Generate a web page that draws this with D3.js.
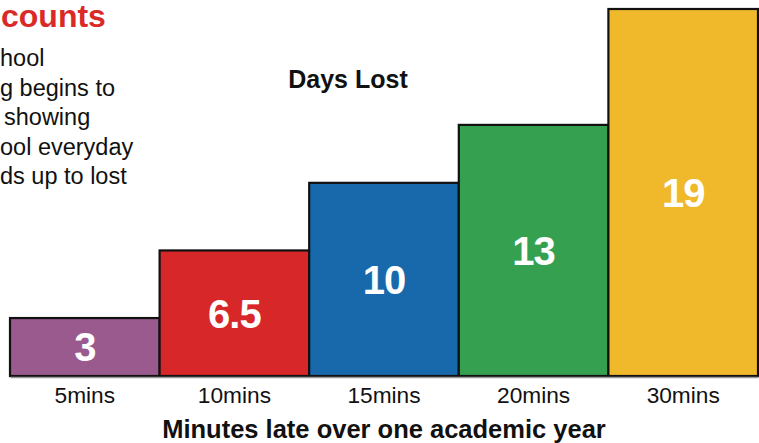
<!DOCTYPE html>
<html>
<head>
    <title>Days Lost</title>
    <script src="https://d3js.org/d3.v7.min.js"></script>
    <style>
        body { margin: 0; background: #fff; font-family: "Liberation Sans", Arial, sans-serif; }
        svg { display: block; }
        .tick text { font-size: 22.7px; fill: #111; }
    </style>
</head>
<body>
    <div id="chart"></div>
    <script>
        const categories = ["5mins", "10mins", "15mins", "20mins", "30mins"];
        const daysLost = [3, 6.5, 10, 13, 19];
        const barColors = ["#9a5a8e", "#d82728", "#1769ab", "#36a051", "#f0b82b"];
        const introLines = ["hool", "g begins to", " showing", "ool everyday", "ds up to lost"];

        const width = 759, height = 443;
        const svg = d3.select("#chart")
            .append("svg")
            .attr("width", width)
            .attr("height", height);

        const x = d3.scaleBand().domain(categories).range([10, 758]).padding(0);
        const y = d3.scaleLinear().domain([0, 19]).range([376, 9]);

        // cropped heading + intro text on the left
        svg.append("text")
            .attr("x", 1).attr("y", 27)
            .attr("fill", "#d92a27")
            .attr("font-size", 32).attr("font-weight", "bold")
            .text("counts");

        svg.append("g").selectAll("text")
            .data(introLines)
            .join("text")
            .attr("x", d => d.startsWith(" ") ? 4 : 0)
            .attr("y", (d, i) => 66 + i * 29.5)
            .attr("font-size", 23.5)
            .attr("fill", "#111")
            .text(d => d.trim());

        svg.append("text")
            .attr("x", 348).attr("y", 88)
            .attr("text-anchor", "middle")
            .attr("font-size", 25).attr("font-weight", "bold")
            .attr("fill", "#111")
            .text("Days Lost");

        const bars = svg.append("g").selectAll("g")
            .data(categories.map((c, i) => ({cat: c, v: daysLost[i], color: barColors[i]})))
            .join("g");

        bars.append("rect")
            .attr("x", d => x(d.cat))
            .attr("width", x.bandwidth())
            .attr("y", d => y(d.v))
            .attr("height", d => y(0) - y(d.v))
            .attr("fill", d => d.color)
            .attr("stroke", "#111")
            .attr("stroke-width", 2.2);

        bars.append("text")
            .attr("x", d => x(d.cat) + x.bandwidth() / 2)
            .attr("y", d => (y(d.v) + y(0)) / 2)
            .attr("dy", "0.36em")
            .attr("text-anchor", "middle")
            .attr("font-size", 40).attr("font-weight", "bold")
            .attr("letter-spacing", -1)
            .attr("fill", "#fff")
            .text(d => d.v);

        const axis = svg.append("g")
            .attr("transform", "translate(0,377)")
            .call(d3.axisBottom(x).tickSize(0).tickPadding(10));
        axis.select(".domain").attr("stroke", "#999").attr("stroke-width", 1.5);
        axis.selectAll(".tick text").attr("font-family", "Liberation Sans, Arial, sans-serif");

        svg.append("text")
            .attr("x", 384).attr("y", 438)
            .attr("text-anchor", "middle")
            .attr("font-size", 25.5).attr("font-weight", "bold")
            .attr("fill", "#111")
            .text("Minutes late over one academic year");
    </script>
</body>
</html>
